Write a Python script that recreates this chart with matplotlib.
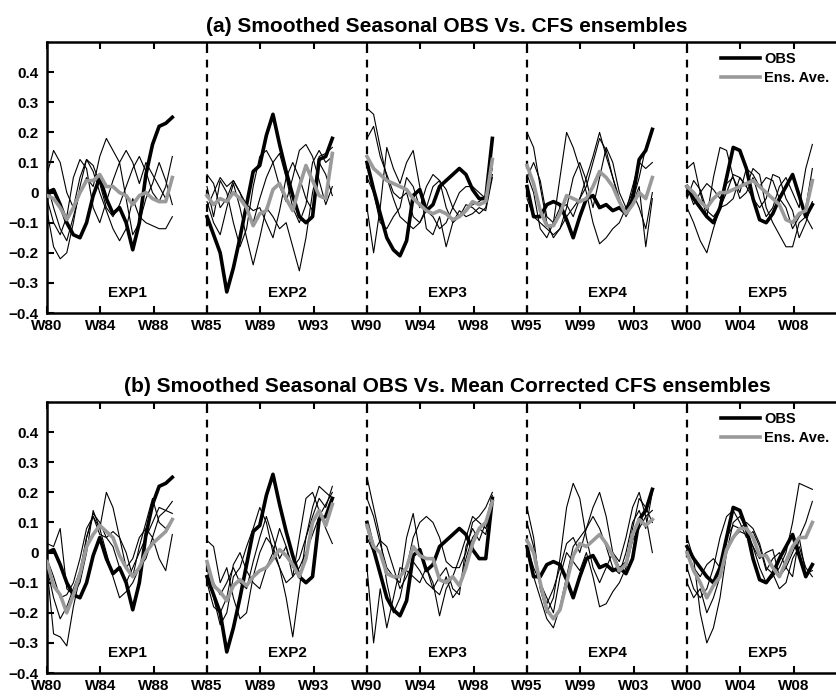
import numpy as np
import matplotlib.pyplot as plt

plt.rcParams['font.family'] = ['Liberation Sans', 'DejaVu Sans']
plt.rcParams['font.weight'] = 'bold'

exp_names = ['EXP1', 'EXP2', 'EXP3', 'EXP4', 'EXP5']
tick_labels = ['W80', 'W84', 'W88', 'W85', 'W89', 'W93', 'W90', 'W94', 'W98',
               'W95', 'W99', 'W03', 'W00', 'W04', 'W08']
ytick_vals = [-0.4, -0.3, -0.2, -0.1, 0, 0.1, 0.2, 0.3, 0.4]
ytick_labels = ['\u22120.4', '\u22120.3', '\u22120.2', '\u22120.1', '0',
                '0.1', '0.2', '0.3', '0.4']
titles = ['(a) Smoothed Seasonal OBS Vs. CFS ensembles',
          '(b) Smoothed Seasonal OBS Vs. Mean Corrected CFS ensembles']

# observed series, one list per experiment (same in both panels)
obs = [
    [0.0, 0.01, -0.04, -0.10, -0.14, -0.15, -0.10, -0.01, 0.05, -0.02, -0.07, -0.05, -0.10, -0.19, -0.10, 0.06, 0.16, 0.22, 0.23, 0.25],
    [-0.08, -0.14, -0.20, -0.33, -0.25, -0.15, -0.04, 0.07, 0.09, 0.19, 0.26, 0.16, 0.07, -0.01, -0.08, -0.10, -0.08, 0.11, 0.12, 0.18],
    [0.10, 0.01, -0.07, -0.15, -0.19, -0.21, -0.16, -0.01, 0.01, -0.06, -0.04, 0.02, 0.04, 0.06, 0.08, 0.06, 0.01, -0.02, -0.02, 0.18],
    [0.02, -0.08, -0.08, -0.04, -0.03, -0.04, -0.09, -0.15, -0.08, -0.02, -0.01, -0.05, -0.04, -0.06, -0.05, -0.07, -0.02, 0.11, 0.14, 0.21],
    [0.02, -0.02, -0.05, -0.08, -0.10, -0.05, 0.05, 0.15, 0.14, 0.08, -0.02, -0.09, -0.10, -0.07, -0.02, 0.02, 0.06, -0.01, -0.08, -0.04],
]

# ensemble average, raw CFS (panel a)
ens_raw = [
    [-0.01, -0.02, -0.05, -0.09, -0.05, 0.0, 0.04, 0.04, 0.06, 0.02, 0.02, 0.0, -0.01, -0.04, -0.01, 0.0, -0.02, -0.03, -0.03, 0.05],
    [-0.01, -0.04, -0.02, -0.03, 0.0, -0.02, -0.05, -0.11, -0.07, -0.06, 0.01, 0.03, -0.02, -0.06, 0.02, 0.09, 0.04, -0.01, -0.02, 0.13],
    [0.12, 0.08, 0.06, 0.04, 0.03, 0.02, 0.01, -0.02, -0.04, -0.06, -0.07, -0.06, -0.07, -0.09, -0.08, -0.06, -0.03, -0.04, -0.03, 0.11],
    [0.09, 0.03, -0.06, -0.11, -0.11, -0.07, -0.01, -0.02, -0.03, -0.02, 0.02, 0.07, 0.05, 0.02, -0.03, -0.07, -0.04, 0.0, -0.02, 0.05],
    [0.02, 0.0, -0.03, -0.05, -0.02, 0.0, 0.0, 0.01, 0.02, 0.03, 0.04, 0.02, 0.0, -0.02, -0.04, -0.09, -0.10, -0.07, -0.06, 0.04],
]

# ensemble average, mean corrected (panel b)
ens_corr = [
    [-0.03, -0.11, -0.14, -0.20, -0.14, -0.07, 0.02, 0.06, 0.09, 0.07, 0.05, -0.01, -0.05, -0.08, -0.05, 0.0, 0.03, 0.05, 0.07, 0.11],
    [-0.03, -0.11, -0.13, -0.16, -0.11, -0.09, -0.11, -0.08, -0.06, -0.05, -0.02, 0.01, -0.01, -0.04, -0.08, -0.02, 0.10, 0.14, 0.09, 0.16],
    [0.09, 0.02, 0.0, -0.07, -0.08, -0.08, -0.05, 0.02, -0.01, -0.02, -0.02, -0.09, -0.10, -0.08, -0.11, -0.05, 0.03, 0.08, 0.10, 0.17],
    [0.04, 0.0, -0.10, -0.19, -0.22, -0.19, -0.10, -0.01, 0.03, 0.02, 0.04, 0.06, 0.03, -0.01, -0.06, -0.04, 0.06, 0.11, 0.09, 0.11],
    [0.0, -0.06, -0.10, -0.15, -0.11, -0.08, 0.01, 0.05, 0.08, 0.08, 0.05, -0.01, -0.01, -0.05, -0.08, -0.03, 0.02, 0.05, 0.05, 0.10],
]

# ensemble members, raw CFS (panel a)
mem_raw = [
    [[0.06, 0.14, 0.10, 0.0, -0.05, 0.05, 0.11, 0.09, 0.03, -0.05, -0.08, -0.04, 0.02, 0.08, 0.12, 0.07, 0.0, -0.03, 0.02, 0.12],
     [-0.06, -0.18, -0.22, -0.20, -0.10, 0.02, 0.11, 0.07, 0.0, -0.06, -0.12, -0.16, -0.12, -0.02, -0.08, -0.10, -0.11, -0.12, -0.12, -0.08],
     [0.03, -0.05, -0.12, -0.16, -0.08, 0.0, 0.05, 0.02, 0.12, 0.18, 0.14, 0.10, 0.14, 0.10, 0.03, 0.10, 0.06, 0.02, -0.02, 0.05],
     [-0.02, -0.10, -0.14, -0.08, 0.05, 0.11, 0.08, -0.05, -0.10, -0.03, 0.04, 0.10, -0.02, -0.14, -0.10, -0.02, 0.03, 0.10, 0.04, -0.04]],
    [[0.06, 0.03, -0.05, -0.02, 0.04, 0.0, -0.06, -0.10, -0.02, 0.05, 0.10, 0.13, 0.05, -0.05, -0.10, -0.04, 0.10, 0.14, 0.10, 0.12],
     [-0.03, -0.10, -0.14, -0.05, 0.03, -0.05, -0.15, -0.24, -0.15, -0.05, -0.08, -0.12, -0.10, -0.18, -0.26, -0.15, 0.0, 0.10, 0.06, -0.01],
     [0.02, -0.08, 0.04, 0.0, -0.10, -0.18, -0.12, 0.02, 0.12, 0.14, 0.10, 0.02, -0.03, 0.05, 0.14, 0.16, 0.12, 0.04, -0.04, 0.02],
     [-0.05, 0.0, 0.05, 0.02, 0.04, 0.0, -0.04, -0.06, -0.05, -0.10, -0.15, -0.06, 0.05, 0.10, 0.05, -0.02, -0.06, 0.12, 0.13, 0.15]],
    [[0.28, 0.26, 0.15, 0.05, -0.02, -0.08, -0.10, -0.12, -0.10, -0.06, -0.08, -0.12, -0.10, -0.05, 0.0, 0.02, 0.02, 0.0, -0.02, 0.10],
     [0.18, 0.22, 0.12, 0.06, 0.0, -0.02, 0.0, -0.08, -0.10, -0.05, 0.02, 0.04, 0.01, -0.05, -0.08, -0.06, -0.04, -0.03, -0.01, 0.08],
     [-0.05, -0.20, -0.05, 0.15, 0.08, 0.03, 0.10, 0.14, 0.02, -0.12, -0.14, -0.08, -0.18, -0.10, -0.06, -0.08, -0.07, -0.05, -0.06, 0.05],
     [0.05, 0.0, -0.10, -0.12, -0.08, -0.05, 0.05, 0.02, -0.05, 0.02, 0.06, 0.04, -0.05, -0.10, -0.08, -0.04, -0.05, -0.07, -0.05, 0.06]],
    [[0.20, 0.15, 0.02, -0.10, -0.15, -0.12, -0.05, 0.05, 0.10, 0.04, -0.05, 0.05, 0.15, 0.10, 0.0, -0.05, -0.03, 0.05, 0.15, 0.20],
     [0.05, 0.10, 0.04, -0.08, -0.10, 0.05, 0.20, 0.15, 0.08, 0.0, -0.10, -0.17, -0.15, -0.12, -0.10, -0.05, 0.0, -0.05, -0.12, 0.0],
     [-0.02, -0.08, -0.10, -0.12, -0.14, -0.12, -0.08, -0.05, -0.02, 0.05, 0.12, 0.20, 0.12, 0.05, -0.02, -0.08, -0.04, 0.02, -0.18, -0.02],
     [0.06, 0.0, -0.12, -0.15, -0.10, -0.05, -0.04, -0.08, -0.02, 0.02, 0.10, 0.18, 0.14, 0.05, -0.03, -0.06, 0.02, 0.10, 0.08, 0.10]],
    [[0.08, 0.10, 0.0, -0.08, 0.05, 0.15, 0.14, 0.05, -0.02, 0.0, 0.05, -0.02, -0.08, -0.05, 0.02, 0.05, 0.0, -0.05, 0.08, 0.16],
     [-0.05, -0.10, -0.16, -0.20, -0.12, -0.05, 0.0, 0.06, 0.05, 0.02, 0.08, 0.06, -0.05, -0.10, -0.14, -0.18, -0.18, -0.10, -0.08, -0.12],
     [0.02, -0.04, 0.0, 0.03, 0.01, -0.02, 0.03, 0.05, 0.0, 0.08, 0.06, 0.02, 0.05, 0.04, -0.02, -0.05, -0.12, -0.08, -0.05, 0.08],
     [-0.02, 0.04, 0.01, -0.06, -0.08, -0.05, -0.04, -0.02, 0.05, 0.02, -0.02, -0.05, -0.02, 0.06, 0.05, -0.02, -0.06, -0.15, -0.10, -0.03]],
]

# ensemble members, mean corrected (panel b)
mem_corr = [
    [[-0.05, -0.27, -0.28, -0.31, -0.18, -0.08, 0.05, 0.13, 0.10, 0.05, 0.02, -0.05, -0.10, -0.05, 0.0, 0.05, 0.10, 0.15, 0.14, 0.13],
     [0.03, 0.02, 0.08, -0.12, -0.14, -0.10, 0.0, 0.14, 0.08, 0.20, 0.15, 0.05, -0.05, -0.02, 0.05, 0.08, 0.05, 0.12, 0.14, 0.17],
     [-0.05, -0.15, -0.22, -0.18, -0.12, -0.06, 0.05, 0.12, 0.08, 0.0, -0.08, -0.15, -0.13, -0.10, -0.05, -0.02, 0.05, -0.02, -0.06, 0.06],
     [-0.02, -0.08, -0.15, -0.14, -0.10, -0.02, 0.08, 0.12, 0.06, 0.05, 0.07, 0.05, 0.0, -0.08, 0.02, 0.10, 0.18, 0.10, 0.08, 0.11]],
    [[0.04, 0.02, -0.10, -0.05, -0.15, -0.22, -0.20, -0.08, 0.0, 0.05, 0.02, -0.05, -0.15, -0.28, -0.12, 0.05, 0.12, 0.18, 0.15, 0.22],
     [-0.05, -0.15, -0.24, -0.20, -0.08, -0.05, 0.02, 0.08, 0.15, 0.10, 0.0, -0.05, -0.10, -0.08, 0.05, 0.18, 0.20, 0.14, 0.08, 0.03],
     [-0.08, -0.10, -0.14, -0.10, -0.05, -0.10, -0.12, -0.03, 0.05, 0.12, 0.05, -0.02, 0.02, -0.05, -0.02, 0.05, 0.15, 0.22, 0.20, 0.18],
     [-0.10, -0.18, -0.20, -0.15, -0.04, 0.0, -0.06, -0.10, -0.12, -0.05, 0.0, 0.08, 0.02, -0.08, -0.05, 0.0, 0.06, 0.12, 0.16, 0.20]],
    [[0.25, 0.15, 0.05, -0.10, -0.20, -0.15, -0.05, 0.05, 0.10, 0.12, 0.10, 0.05, -0.03, -0.05, -0.05, 0.0, 0.10, 0.12, 0.15, 0.20],
     [0.18, 0.12, 0.03, -0.05, -0.08, -0.10, 0.05, 0.13, 0.0, -0.05, -0.10, -0.21, -0.12, -0.08, -0.02, 0.05, 0.12, 0.10, 0.08, 0.16],
     [-0.05, -0.30, -0.12, -0.25, -0.15, -0.05, -0.06, -0.08, -0.10, -0.05, -0.12, -0.14, -0.08, -0.15, -0.12, -0.02, 0.05, 0.08, 0.06, 0.18],
     [0.05, 0.0, 0.04, 0.02, -0.05, -0.12, -0.08, -0.03, -0.06, -0.10, -0.12, -0.08, -0.05, -0.12, -0.14, 0.02, 0.08, 0.04, 0.10, 0.19]],
    [[0.15, 0.05, -0.12, -0.20, -0.15, -0.02, 0.15, 0.23, 0.18, 0.05, -0.05, -0.10, -0.05, 0.0, -0.03, 0.05, 0.15, 0.20, 0.12, 0.0],
     [0.0, -0.08, -0.15, -0.22, -0.25, -0.18, -0.08, 0.02, 0.05, 0.08, 0.15, 0.20, 0.12, 0.0, -0.05, -0.03, 0.08, 0.18, 0.15, 0.10],
     [0.10, 0.02, -0.10, -0.15, -0.20, -0.08, 0.0, -0.03, -0.06, 0.0, -0.08, -0.18, -0.17, -0.13, -0.10, -0.05, 0.04, 0.08, 0.12, 0.14],
     [0.02, -0.05, -0.10, -0.17, -0.12, -0.05, 0.03, 0.05, 0.0, 0.08, 0.12, 0.08, 0.02, -0.05, -0.07, 0.0, 0.10, 0.14, 0.08, 0.20]],
    [[0.05, -0.02, -0.20, -0.30, -0.25, -0.15, 0.0, 0.10, 0.12, 0.08, 0.02, -0.05, -0.10, -0.08, -0.05, 0.0, 0.10, 0.23, 0.22, 0.21],
     [-0.05, -0.12, -0.15, -0.12, -0.05, 0.05, 0.12, 0.14, 0.10, 0.05, 0.07, 0.02, -0.06, -0.02, 0.0, -0.05, -0.08, 0.05, 0.10, 0.17],
     [0.0, -0.05, -0.08, -0.04, -0.02, -0.05, 0.05, 0.09, 0.08, 0.10, 0.08, 0.03, -0.05, -0.07, -0.12, -0.10, -0.02, 0.02, -0.05, -0.08],
     [-0.10, -0.15, -0.12, -0.20, -0.15, -0.08, 0.0, 0.05, 0.07, 0.06, 0.02, -0.02, 0.0, 0.01, -0.08, -0.05, 0.0, 0.05, -0.07, -0.06]],
]

seg_len = 12      # years per experiment block on the axis
span = 9.4        # years covered by each series

fig = plt.figure(figsize=(8.36, 6.97), dpi=100)
ax_a = fig.add_axes([0.0562, 0.5509, 0.957, 0.3888])
ax_b = fig.add_axes([0.0562, 0.0344, 0.957, 0.3888])

for ax, ens, mem, title in [(ax_a, ens_raw, mem_raw, titles[0]),
                             (ax_b, ens_corr, mem_corr, titles[1])]:
    for k in range(5):
        x = k * seg_len + np.linspace(0, span, len(obs[k]))
        for m in mem[k]:
            ax.plot(x, m, color='black', lw=0.8, zorder=2)
        l_obs, = ax.plot(x, obs[k], color='black', lw=2.6, zorder=3)
        l_ens, = ax.plot(x, ens[k], color='#9a9a9a', lw=2.6, zorder=4)
        ax.text(k * seg_len + 6, -0.333, exp_names[k], ha='center', va='center',
                fontsize=11, fontweight='bold')
        if k > 0:
            ax.axvline(k * seg_len, color='black', lw=1.6, ls=(0, (3.5, 3)), zorder=1)

    ax.set_xlim(0, 5 * seg_len)
    ax.set_ylim(-0.4, 0.5)
    ax.set_xticks(np.arange(15) // 3 * seg_len + np.arange(15) % 3 * 4)
    ax.set_xticklabels(tick_labels)
    ax.set_yticks(ytick_vals)
    ax.set_yticklabels(ytick_labels)
    ax.tick_params(direction='in', length=5, width=1.5, top=True, right=False,
                   labelsize=11)
    ax.tick_params(axis='x', pad=4)
    ax.tick_params(axis='y', pad=6)
    for lab in ax.get_xticklabels() + ax.get_yticklabels():
        lab.set_fontweight('bold')
    for s in ['left', 'top', 'bottom']:
        ax.spines[s].set_linewidth(1.8)
    ax.spines['right'].set_visible(False)
    ax.set_title(title, fontsize=15, fontweight='bold', pad=7)
    ax.legend([l_obs, l_ens], ['OBS', 'Ens. Ave.'], loc='upper left',
              bbox_to_anchor=(0.842, 0.962), frameon=False,
              handlelength=2.7, handletextpad=0.3, labelspacing=0.3,
              borderaxespad=0, borderpad=0, prop={'weight': 'bold', 'size': 10.5})

fig.savefig('out.png', dpi=100)
